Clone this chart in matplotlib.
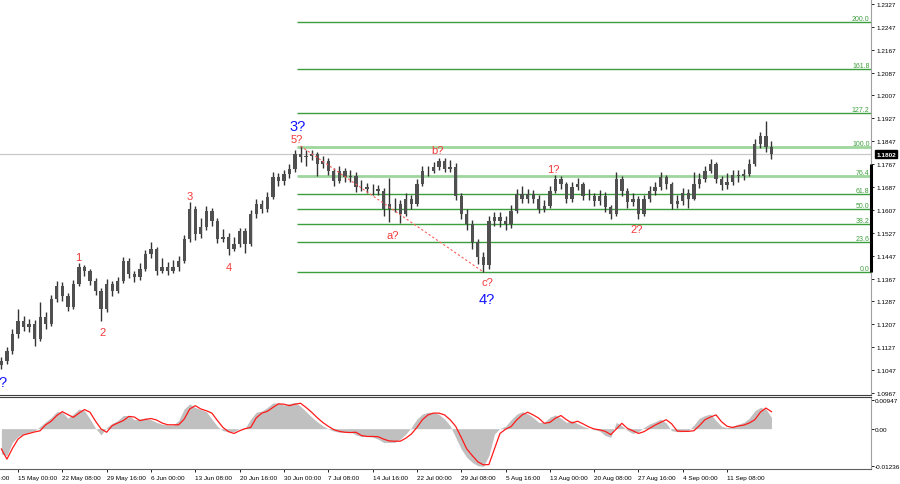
import matplotlib
matplotlib.use('Agg')
import matplotlib.pyplot as plt

plt.rcParams['font.family'] = ['Liberation Sans', 'DejaVu Sans']

# candles (each one ~4 H4 bars)
first_open = 1.1065
closes = [1.1079, 1.1114, 1.1173, 1.1219, 1.1198, 1.1208, 1.1156, 1.1233, 1.1208, 1.1296,
          1.1341, 1.1306, 1.1268, 1.1348, 1.1408, 1.1394, 1.1359, 1.1324, 1.1261, 1.1348,
          1.1324, 1.1359, 1.1428, 1.1383, 1.1373, 1.1401, 1.1453, 1.1470, 1.1394, 1.1408,
          1.1394, 1.1408, 1.1428, 1.1505, 1.1610, 1.1523, 1.1547, 1.1603, 1.1568, 1.1505,
          1.1512, 1.1470, 1.1488, 1.1533, 1.1488, 1.1593, 1.1628, 1.1610, 1.1652, 1.1722,
          1.1708, 1.1733, 1.1750, 1.1802, 1.1792, 1.1796, 1.1802, 1.1768, 1.1778, 1.1743,
          1.1708, 1.1743, 1.1722, 1.1726, 1.1687, 1.1687, 1.1680, 1.1680, 1.1673, 1.1610,
          1.1628, 1.1628, 1.1593, 1.1645, 1.1628, 1.1698, 1.1743, 1.1743, 1.1757, 1.1778,
          1.1750, 1.1757, 1.1656, 1.1593, 1.1558, 1.1495, 1.1443, 1.1414, 1.1568, 1.1582,
          1.1568, 1.1558, 1.1603, 1.1663, 1.1645, 1.1663, 1.1645, 1.1610, 1.1621, 1.1673,
          1.1715, 1.1698, 1.1645, 1.1687, 1.1698, 1.1656, 1.1656, 1.1638, 1.1656, 1.1617,
          1.1593, 1.1715, 1.1673, 1.1635, 1.1645, 1.1593, 1.1645, 1.1673, 1.1687, 1.1722,
          1.1698, 1.1628, 1.1638, 1.1666, 1.1645, 1.1698, 1.1715, 1.1743, 1.1768, 1.1715,
          1.1694, 1.1705, 1.1729, 1.1726, 1.1733, 1.1768, 1.1838, 1.1865, 1.1827, 1.1802]
highs = [1.1092, 1.1128, 1.1190, 1.1262, 1.1236, 1.1226, 1.1222, 1.1285, 1.1250, 1.1310,
         1.1360, 1.1355, 1.1318, 1.1362, 1.1420, 1.1415, 1.1402, 1.1370, 1.1335, 1.1365,
         1.1360, 1.1372, 1.1442, 1.1440, 1.1395, 1.1420, 1.1468, 1.1495, 1.1478, 1.1440,
         1.1425, 1.1432, 1.1445, 1.1520, 1.1635, 1.1620, 1.1580, 1.1620, 1.1612, 1.1580,
         1.1540, 1.1525, 1.1512, 1.1545, 1.1545, 1.1608, 1.1645, 1.1640, 1.1670, 1.1740,
         1.1735, 1.1745, 1.1768, 1.1815, 1.1830, 1.1815, 1.1818, 1.1810, 1.1795, 1.1790,
         1.1755, 1.1760, 1.1755, 1.1745, 1.1738, 1.1710, 1.1700, 1.1698, 1.1695, 1.1685,
         1.1717, 1.1650, 1.1640, 1.1665, 1.1660, 1.1715, 1.1760, 1.1762, 1.1775, 1.1790,
         1.1790, 1.1780, 1.1770, 1.1665, 1.1610, 1.1570, 1.1505, 1.1460, 1.1585, 1.1600,
         1.1598, 1.1585, 1.1625, 1.1680, 1.1690, 1.1680, 1.1675, 1.1660, 1.1640, 1.1690,
         1.1728, 1.1725, 1.1705, 1.1705, 1.1718, 1.1705, 1.1680, 1.1665, 1.1675, 1.1668,
         1.1625, 1.1740, 1.1725, 1.1685, 1.1665, 1.1655, 1.1660, 1.1690, 1.1705, 1.1740,
         1.1730, 1.1705, 1.1660, 1.1685, 1.1680, 1.1740, 1.1735, 1.1760, 1.1785, 1.1775,
         1.1725, 1.1735, 1.1745, 1.1745, 1.1750, 1.1785, 1.1855, 1.1880, 1.1918, 1.1848]
lows = [1.1052, 1.1070, 1.1105, 1.1160, 1.1182, 1.1180, 1.1130, 1.1148, 1.1192, 1.1200,
        1.1285, 1.1290, 1.1255, 1.1260, 1.1340, 1.1375, 1.1345, 1.1310, 1.1220, 1.1250,
        1.1305, 1.1315, 1.1350, 1.1368, 1.1355, 1.1362, 1.1392, 1.1440, 1.1380, 1.1385,
        1.1380, 1.1385, 1.1395, 1.1420, 1.1495, 1.1500, 1.1510, 1.1535, 1.1550, 1.1490,
        1.1495, 1.1450, 1.1462, 1.1478, 1.1458, 1.1480, 1.1580, 1.1595, 1.1600, 1.1645,
        1.1690, 1.1695, 1.1720, 1.1740, 1.1775, 1.1760, 1.1780, 1.1725, 1.1755, 1.1730,
        1.1690, 1.1700, 1.1705, 1.1705, 1.1670, 1.1672, 1.1665, 1.1660, 1.1660, 1.1585,
        1.1565, 1.1600, 1.1560, 1.1585, 1.1610, 1.1620, 1.1690, 1.1725, 1.1735, 1.1745,
        1.1738, 1.1740, 1.1640, 1.1575, 1.1535, 1.1470, 1.1418, 1.1390, 1.1400, 1.1550,
        1.1548, 1.1535, 1.1545, 1.1595, 1.1630, 1.1630, 1.1630, 1.1595, 1.1598, 1.1612,
        1.1665, 1.1680, 1.1630, 1.1635, 1.1675, 1.1640, 1.1640, 1.1620, 1.1625, 1.1600,
        1.1575, 1.1585, 1.1655, 1.1615, 1.1620, 1.1575, 1.1585, 1.1635, 1.1660, 1.1675,
        1.1680, 1.1610, 1.1615, 1.1625, 1.1615, 1.1640, 1.1685, 1.1705, 1.1735, 1.1700,
        1.1675, 1.1680, 1.1695, 1.1705, 1.1712, 1.1725, 1.1760, 1.1825, 1.1810, 1.1785]

# oscillator, in units of 0.0001
osc_hist = [-85, -90, -46, -26, -18, -12, -7, 8, 23, 38, 57, 55, 35, 49, 66, 60, 32, 1, -21, 4,
            18, 27, 44, 44, 30, 32, 36, 30, 21, 15, 12, 12, 27, 66, 83, 71, 64, 57, 32, 8,
            -7, -10, -10, 1, 2, 32, 55, 59, 71, 86, 86, 79, 84, 88, 75, 57, 39, 23, 10, -1,
            -8, -12, -12, -10, -21, -26, -26, -28, -35, -46, -46, -46, -35, -18, 4, 32, 49, 55, 55, 48,
            32, 10, -29, -68, -96, -113, -124, -126, -90, -18, 1, 8, 30, 48, 57, 50, 37, 21, 21, 38,
            46, 35, 21, 27, 17, 8, 1, -3, -8, -23, -29, 21, 10, -6, -16, -10, 4, 16, 23, 32,
            19, -7, -10, -10, -7, 12, 35, 44, 49, 27, 8, 3, 8, 15, 21, 35, 60, 71, 66, 38]
osc_signal = [-68, -102, -66, -35, -21, -16, -11, -7, 13, 25, 44, 57, 47, 38, 52, 64, 55, 25, -1, -12,
              10, 19, 27, 41, 39, 27, 31, 34, 29, 19, 13, 13, 13, 32, 66, 77, 66, 60, 52, 27,
              4, -10, -16, -7, 0, 4, 36, 52, 58, 71, 83, 82, 77, 82, 85, 71, 55, 37, 21, 8,
              -3, -9, -12, -13, -12, -23, -26, -26, -27, -35, -41, -42, -42, -32, -18, 4, 30, 46, 52, 52,
              46, 30, 8, -29, -68, -90, -111, -121, -120, -68, -16, -2, 7, 29, 46, 55, 46, 35, 18, 21,
              35, 44, 30, 19, 25, 16, 6, -1, -4, -9, -20, -1, 18, 1, -7, -16, -10, 1, 12, 21,
              30, 16, -8, -9, -9, -7, 10, 30, 39, 46, 23, 8, 4, 9, 12, 19, 30, 55, 69, 57]

price_ticks = [1.2327, 1.2247, 1.2167, 1.2087, 1.2007, 1.1927, 1.1847, 1.1767, 1.1687,
               1.1607, 1.1527, 1.1447, 1.1367, 1.1287, 1.1207, 1.1127, 1.1047, 1.0967]
osc_ticks = [0.00947, 0.0, -0.01236]
osc_tick_labels = ['0.00947', '0.00', '-0.01236']
date_labels = ['15 May 00:00', '22 May 08:00', '29 May 16:00', '6 Jun 00:00', '13 Jun 08:00',
               '20 Jun 16:00', '30 Jun 00:00', '7 Jul 08:00', '14 Jul 16:00', '22 Jul 00:00',
               '29 Jul 08:00', '5 Aug 16:00', '13 Aug 00:00', '20 Aug 08:00', '27 Aug 16:00',
               '4 Sep 00:00', '11 Sep 08:00']
first_date_label = '8 May 16:00'

fib_levels = [0.0, 23.6, 38.2, 50.0, 61.8, 76.4, 100.0, 127.2, 161.8, 200.0]
fib_low = 1.1391
fib_high = 1.1828
last_price = 1.1802

# wave labels: (text, candle position, price, colour, size)
waves = [
    ('3?', 53.4, 1.1900, 'blue', 10.5),
    ('5?', 53.4, 1.1856, 'red', 8),
    ('1', 13.8, 1.1442, 'red', 8),
    ('2', 18.2, 1.1180, 'red', 8),
    ('3', 33.9, 1.1656, 'red', 8),
    ('4', 41.1, 1.1408, 'red', 8),
    ('a?', 70.7, 1.1519, 'red', 8),
    ('b?', 78.8, 1.1817, 'red', 8),
    ('c?', 87.7, 1.1355, 'red', 8),
    ('4?', 87.7, 1.1296, 'blue', 10.5),
    ('1?', 99.6, 1.1750, 'red', 8),
    ('2?', 114.7, 1.1540, 'red', 8),
    ('?', 0.2, 1.1005, 'blue', 10.5),
]

RED = '#f23a3a'
BLUE = '#1414ff'
FIB = '#3d9e3d'
FIB_LIGHT = '#9ed69e'

n = len(closes)
xs = list(range(n))
opens = [first_open] + closes[:-1]
xmax = 871 / 5.54 - 0.25

fig = plt.figure(figsize=(9, 4.85), dpi=100)
ax = fig.add_axes([0, 1 - 396 / 485, 871 / 900, 396 / 485])
ax2 = fig.add_axes([0, 1 - 470 / 485, 871 / 900, 72 / 485])

# current price line
ax.axhline(last_price, color='#c8c8c8', lw=0.9, zorder=1)

# fibonacci grid from the 5? top
peak_i = max(range(80), key=lambda i: highs[i])
trough_i = min(range(60, 100), key=lambda i: lows[i])
for lv in fib_levels:
    y = fib_low + (fib_high - fib_low) * lv / 100
    light = lv in (76.4, 100.0)
    ax.hlines(y, peak_i - 0.6, xmax, color=FIB_LIGHT if light else FIB,
              lw=2.0 if light else 1.0, zorder=2)
    ax.text(0.9985, y, f'{lv:.1f}', transform=ax.get_yaxis_transform(), ha='right',
            va='bottom', fontsize=5, color='#3f9f3f', zorder=5)

# dotted a-c line
ax.plot([peak_i, trough_i], [highs[peak_i], lows[trough_i]], color='#ff5a5a', lw=0.8,
        ls=(0, (2, 2)), zorder=4)

# candles
ax.vlines(xs, lows, highs, color='#333333', lw=1.0, zorder=3)
bodies = [max(abs(c - o), 0.00012) for o, c in zip(opens, closes)]
bottoms = [min(o, c) for o, c in zip(opens, closes)]
ax.bar(xs, bodies, bottom=bottoms, width=0.6, color='#505050', edgecolor='none', zorder=3)

for txt, xi, yp, col, fs in waves:
    ax.text(xi, yp, txt, color=BLUE if col == 'blue' else RED, fontsize=fs,
            ha='center', va='center', zorder=6)

ax.set_xlim(-0.25, xmax)
ax.set_ylim(1.0960, 1.2344)
ax.set_xticks([])
ax.yaxis.tick_right()
ax.set_yticks(price_ticks)
ax.set_yticklabels([f'{t:.4f}' for t in price_ticks])
ax.tick_params(axis='y', length=2, width=0.6, pad=2, labelsize=4.6, colors='black')
for s in ['left', 'top']:
    ax.spines[s].set_visible(False)
ax.spines['right'].set_color('#a0a0a0')
ax.spines['bottom'].set_color('#404040')
ax.spines['bottom'].set_linewidth(0.8)

# marker bar on the price scale
ax.plot([1, 1], [fib_low, 1.1767], transform=ax.get_yaxis_transform(), color='black',
        lw=2.2, clip_on=False, solid_capstyle='butt', zorder=7)

# last price box
ax.text(1.006, last_price, f'{last_price:.4f}', transform=ax.get_yaxis_transform(),
        ha='left', va='center', fontsize=4.6, color='white', fontweight='bold',
        bbox=dict(boxstyle='square,pad=0.25', fc='black', ec='black'), clip_on=False)

# oscillator panel
hist = [v * 1e-4 for v in osc_hist]
ax2.fill_between(xs, 0, hist, color='#c0c0c0', lw=0)
ax2.plot(xs, [v * 1e-4 for v in osc_signal], color='#ff1a1a', lw=0.9)
ax2.set_xlim(-0.25, xmax)
ax2.set_ylim(-0.0135, 0.0106)
ax2.yaxis.tick_right()
ax2.set_yticks(osc_ticks)
ax2.set_yticklabels(osc_tick_labels)
ax2.tick_params(axis='y', length=2, width=0.6, pad=1, labelsize=4.6)
tick_pos = [3 + 8 * k for k in range(len(date_labels))]
ax2.set_xticks(tick_pos)
ax2.set_xticklabels(date_labels)
ax2.tick_params(axis='x', length=2, width=0.6, pad=2.5, labelsize=4.6)
for lab in ax2.get_xticklabels():
    lab.set_ha('left')
ax2.annotate(first_date_label, xy=(tick_pos[0] - 8, 0), xycoords=('data', 'axes fraction'),
             xytext=(0, -4.5), textcoords='offset points', fontsize=4.6, ha='left', va='top',
             annotation_clip=False)
ax2.spines['left'].set_visible(False)
ax2.spines['right'].set_color('#a0a0a0')
ax2.spines['top'].set_color('#404040')
ax2.spines['top'].set_linewidth(0.8)
ax2.spines['bottom'].set_color('#606060')

fig.savefig('out.png', dpi=100)
